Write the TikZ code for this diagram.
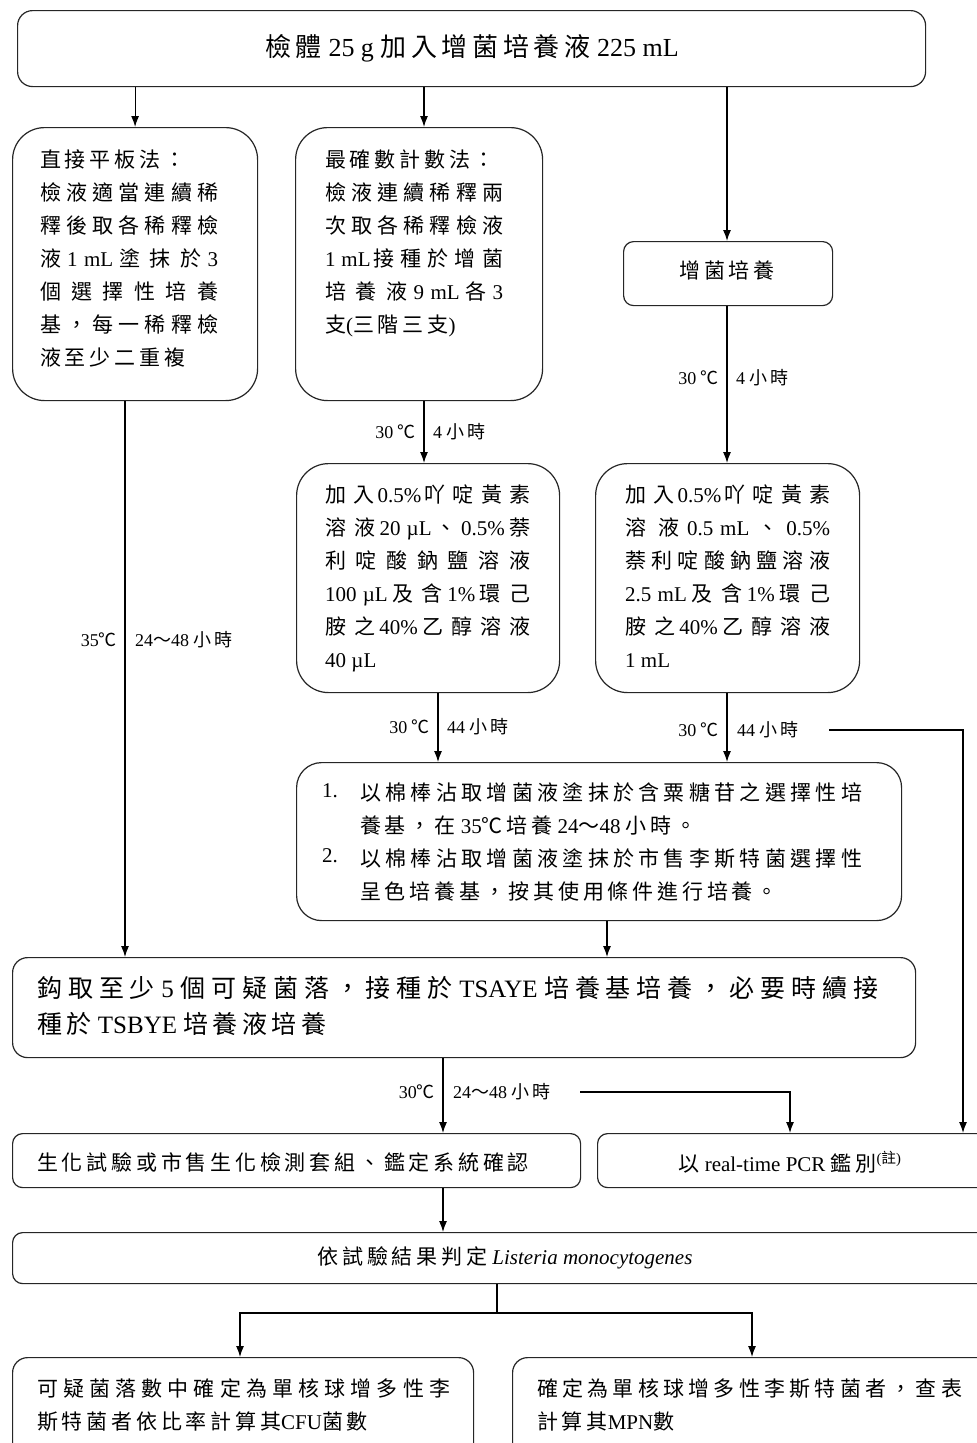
\documentclass[tikz,border=0pt]{standalone}
\usepackage{fontspec}
\setmainfont{Liberation Serif}
\newfontfamily\cjk{Noto Sans CJK TC}
\usetikzlibrary{arrows.meta}
\XeTeXinterchartokenstate=1
\newXeTeXintercharclass\cjkcls
\count255="3000
\loop\XeTeXcharclass\count255=\cjkcls\advance\count255 by 1\ifnum\count255<"A000\repeat
\count255="FF00
\loop\XeTeXcharclass\count255=\cjkcls\advance\count255 by 1\ifnum\count255<"FFF0\repeat
\XeTeXcharclass"2103=\cjkcls
\XeTeXinterchartoks 0 \cjkcls = {\hskip 0pt plus 0.6em\relax\cjk}
\XeTeXinterchartoks 4095 \cjkcls = {\cjk}
\XeTeXinterchartoks \cjkcls 0 = {\rmfamily\hskip 0pt plus 0.6em\relax}
\XeTeXinterchartoks \cjkcls 4095 = {\rmfamily}
\XeTeXinterchartoks \cjkcls \cjkcls = {\hskip 0.18em plus 0.6em\relax}
\begin{document}
\begin{tikzpicture}[x=1pt,y=-1pt,
  box/.style={draw=black!85, line width=1.2pt, inner sep=0pt, anchor=north west},
  txt/.style={inner sep=0pt, anchor=north west, align=justify,
    font=\fontsize{21}{33}\selectfont\setlength\parindent{0pt}},
  ctxt/.style={inner sep=0pt, font=\fontsize{21}{26}\selectfont},
  lab/.style={inner sep=0pt, font=\fontsize{18}{20}\selectfont},
  arr/.style={-{Latex[length=11pt,width=8pt]}, line width=1.2pt},
  ln/.style={line width=1.2pt}]
\useasboundingbox (0,0) rectangle (977,1443);
\fill[white] (0,0) rectangle (977,1443);
\clip (0,0) rectangle (977,1443);

% coordinates for connector columns
\coordinate (x125) at (125,0);
\coordinate (x424) at (424,0);
\coordinate (x438) at (438,0);
\coordinate (x443) at (443,0);
\coordinate (x497) at (497,0);
\coordinate (x607) at (607,0);
\coordinate (x727) at (727,0);
\coordinate (x790) at (790,0);
\coordinate (x963) at (963,0);

% boxes
\node[box, rounded corners=15pt, minimum width=908pt, minimum height=76pt] (top) at (17,10) {};
\node[inner sep=0pt, font=\fontsize{26}{30}\selectfont] (topt) at (472,48) {檢體 25 g 加入增菌培養液 225 mL};

\node[box, rounded corners=32pt, minimum width=245pt, minimum height=273pt] (b1) at (12,127) {};
\node[txt, text width=178pt] (b1t) at (40,150) {直接平板法：\\
檢液適當連續稀\linebreak
釋後取各稀釋檢\linebreak
液1 mL塗抹於3\linebreak
個選擇性培養\linebreak
基，每一稀釋檢\linebreak
液至少二重複};

\node[box, rounded corners=32pt, minimum width=247pt, minimum height=273pt] (b2) at (295,127) {};
\node[txt, text width=178pt] (b2t) at (325,150) {最確數計數法：\\
檢液連續稀釋兩\linebreak
次取各稀釋檢液\linebreak
1 mL接種於增菌\linebreak
培養液9 mL各3\linebreak
支(三階三支)};

\node[box, rounded corners=10pt, minimum width=209pt, minimum height=64pt] (zj) at (623,241) {};
\node[ctxt] (zjt) at (727,271) {增菌培養};

\node[box, rounded corners=32pt, minimum width=263pt, minimum height=229pt] (b3) at (296,463) {};
\node[txt, text width=205pt] (b3t) at (325,485) {加入0.5\%吖啶黃素\linebreak
溶液20 µL、0.5\%萘\linebreak
利啶酸鈉鹽溶液\linebreak
100 µL及含1\%環己\linebreak
胺之40\%乙醇溶液\linebreak
40 µL};

\node[box, rounded corners=32pt, minimum width=264pt, minimum height=229pt] (b4) at (595,463) {};
\node[txt, text width=205pt] (b4t) at (625,485) {加入0.5\%吖啶黃素\linebreak
溶液0.5 mL、0.5\%\linebreak
萘利啶酸鈉鹽溶液\linebreak
2.5 mL及含1\%環己\linebreak
胺之40\%乙醇溶液\linebreak
1 mL};

\node[box, rounded corners=25pt, minimum width=605pt, minimum height=158pt] (b5) at (296,762) {};
\node[txt] (n1) at (322,783) {1.};
\node[txt, text width=502pt] (b5t1) at (360,783) {以棉棒沾取增菌液塗抹於含粟糖苷之選擇性培\linebreak
養基，在 35℃培養 24～48 小時。};
\node[txt] (n2) at (322,848) {2.};
\node[txt, text width=502pt] (b5t2) at (360,848) {以棉棒沾取增菌液塗抹於市售李斯特菌選擇性\linebreak
呈色培養基，按其使用條件進行培養。};

\node[box, rounded corners=15pt, minimum width=903pt, minimum height=100pt] (b6) at (12,957) {};
\node[txt, text width=841pt, font=\fontsize{25}{36}\selectfont\setlength\parindent{0pt}] (b6t) at (37,976) {鈎取至少 5 個可疑菌落，接種於 TSAYE 培養基培養，必要時續接\linebreak
種於 TSBYE 培養液培養};

\node[box, rounded corners=10pt, minimum width=568pt, minimum height=54pt] (b7) at (12,1133) {};
\node[ctxt, anchor=west] (b7t) at (37,1162) {生化試驗或市售生化檢測套組、鑑定系統確認};

\node[box, rounded corners=10pt, minimum width=400pt, minimum height=54pt] (b8) at (597,1133) {};
\node[ctxt] (b8t) at (790,1162) {以 real-time PCR 鑑別\textsuperscript{(註)}};

\node[box, rounded corners=10pt, minimum width=985pt, minimum height=51pt] (b9) at (12,1232) {};
\node[ctxt] (b9t) at (505,1258) {依試驗結果判定 \textit{Listeria monocytogenes}};

\node[box, rounded corners=15pt, minimum width=461pt, minimum height=110pt] (b10) at (12,1357) {};
\node[txt, text width=413pt] (b10t) at (37,1378) {可疑菌落數中確定為單核球增多性李\linebreak
斯特菌者依比率計算其CFU菌數};

\node[box, rounded corners=15pt, minimum width=485pt, minimum height=110pt] (b11) at (512,1357) {};
\node[txt, text width=425pt] (b11t) at (537,1378) {確定為單核球增多性李斯特菌者，查表\linebreak
計算其MPN數};

% connectors
\draw[arr] (top.south -| b1.north) -- (b1.north);
\draw[arr] (top.south -| x424) -- (b2.north -| x424);
\draw[arr] (top.south -| x727) -- (zj.north -| x727);

\draw[arr] (b2.south -| x424) -- (b3.north -| x424);
\node[lab, anchor=east] (l1a) at (416,432) {30 ℃};
\node[lab, anchor=west] (l1b) at (433,432) {4 小時};

\draw[arr] (zj.south -| x727) -- (b4.north -| x727);
\node[lab, anchor=east] (l2a) at (719,378) {30 ℃};
\node[lab, anchor=west] (l2b) at (736,378) {4 小時};

\draw[arr] (b1.south -| x125) -- (b6.north -| x125);
\node[lab, anchor=east] (l3a) at (117,640) {35℃};
\node[lab, anchor=west] (l3b) at (135,640) {24～48 小時};

\draw[arr] (b3.south -| x438) -- (b5.north -| x438);
\node[lab, anchor=east] (l4a) at (430,727) {30 ℃};
\node[lab, anchor=west] (l4b) at (447,727) {44 小時};

\draw[arr] (b4.south -| x727) -- (b5.north -| x727);
\node[lab, anchor=east] (l5a) at (719,730) {30 ℃};
\node[lab, anchor=west] (l5b) at (737,730) {44 小時};
\coordinate (pcrA) at (829,730);
\draw[arr] (pcrA) -- (pcrA -| x963) -- (b8.north -| x963);

\draw[arr] (b5.south -| x607) -- (b6.north -| x607);

\draw[arr] (b6.south -| x443) -- (b7.north -| x443);
\node[lab, anchor=east] (l6a) at (435,1092) {30℃};
\node[lab, anchor=west] (l6b) at (453,1092) {24～48 小時};
\coordinate (pcrB) at (580,1092);
\draw[arr] (pcrB) -- (pcrB -| x790) -- (b8.north -| x790);

\draw[arr] (b7.south -| x443) -- (b9.north -| x443);

\coordinate (split) at (497,1313);
\draw[ln] (b9.south -| x497) -- (split);
\draw[arr] (split) -| (b10.north -| 240,0);
\draw[arr] (split) -| (b11.north -| 752,0);
\end{tikzpicture}
\end{document}
